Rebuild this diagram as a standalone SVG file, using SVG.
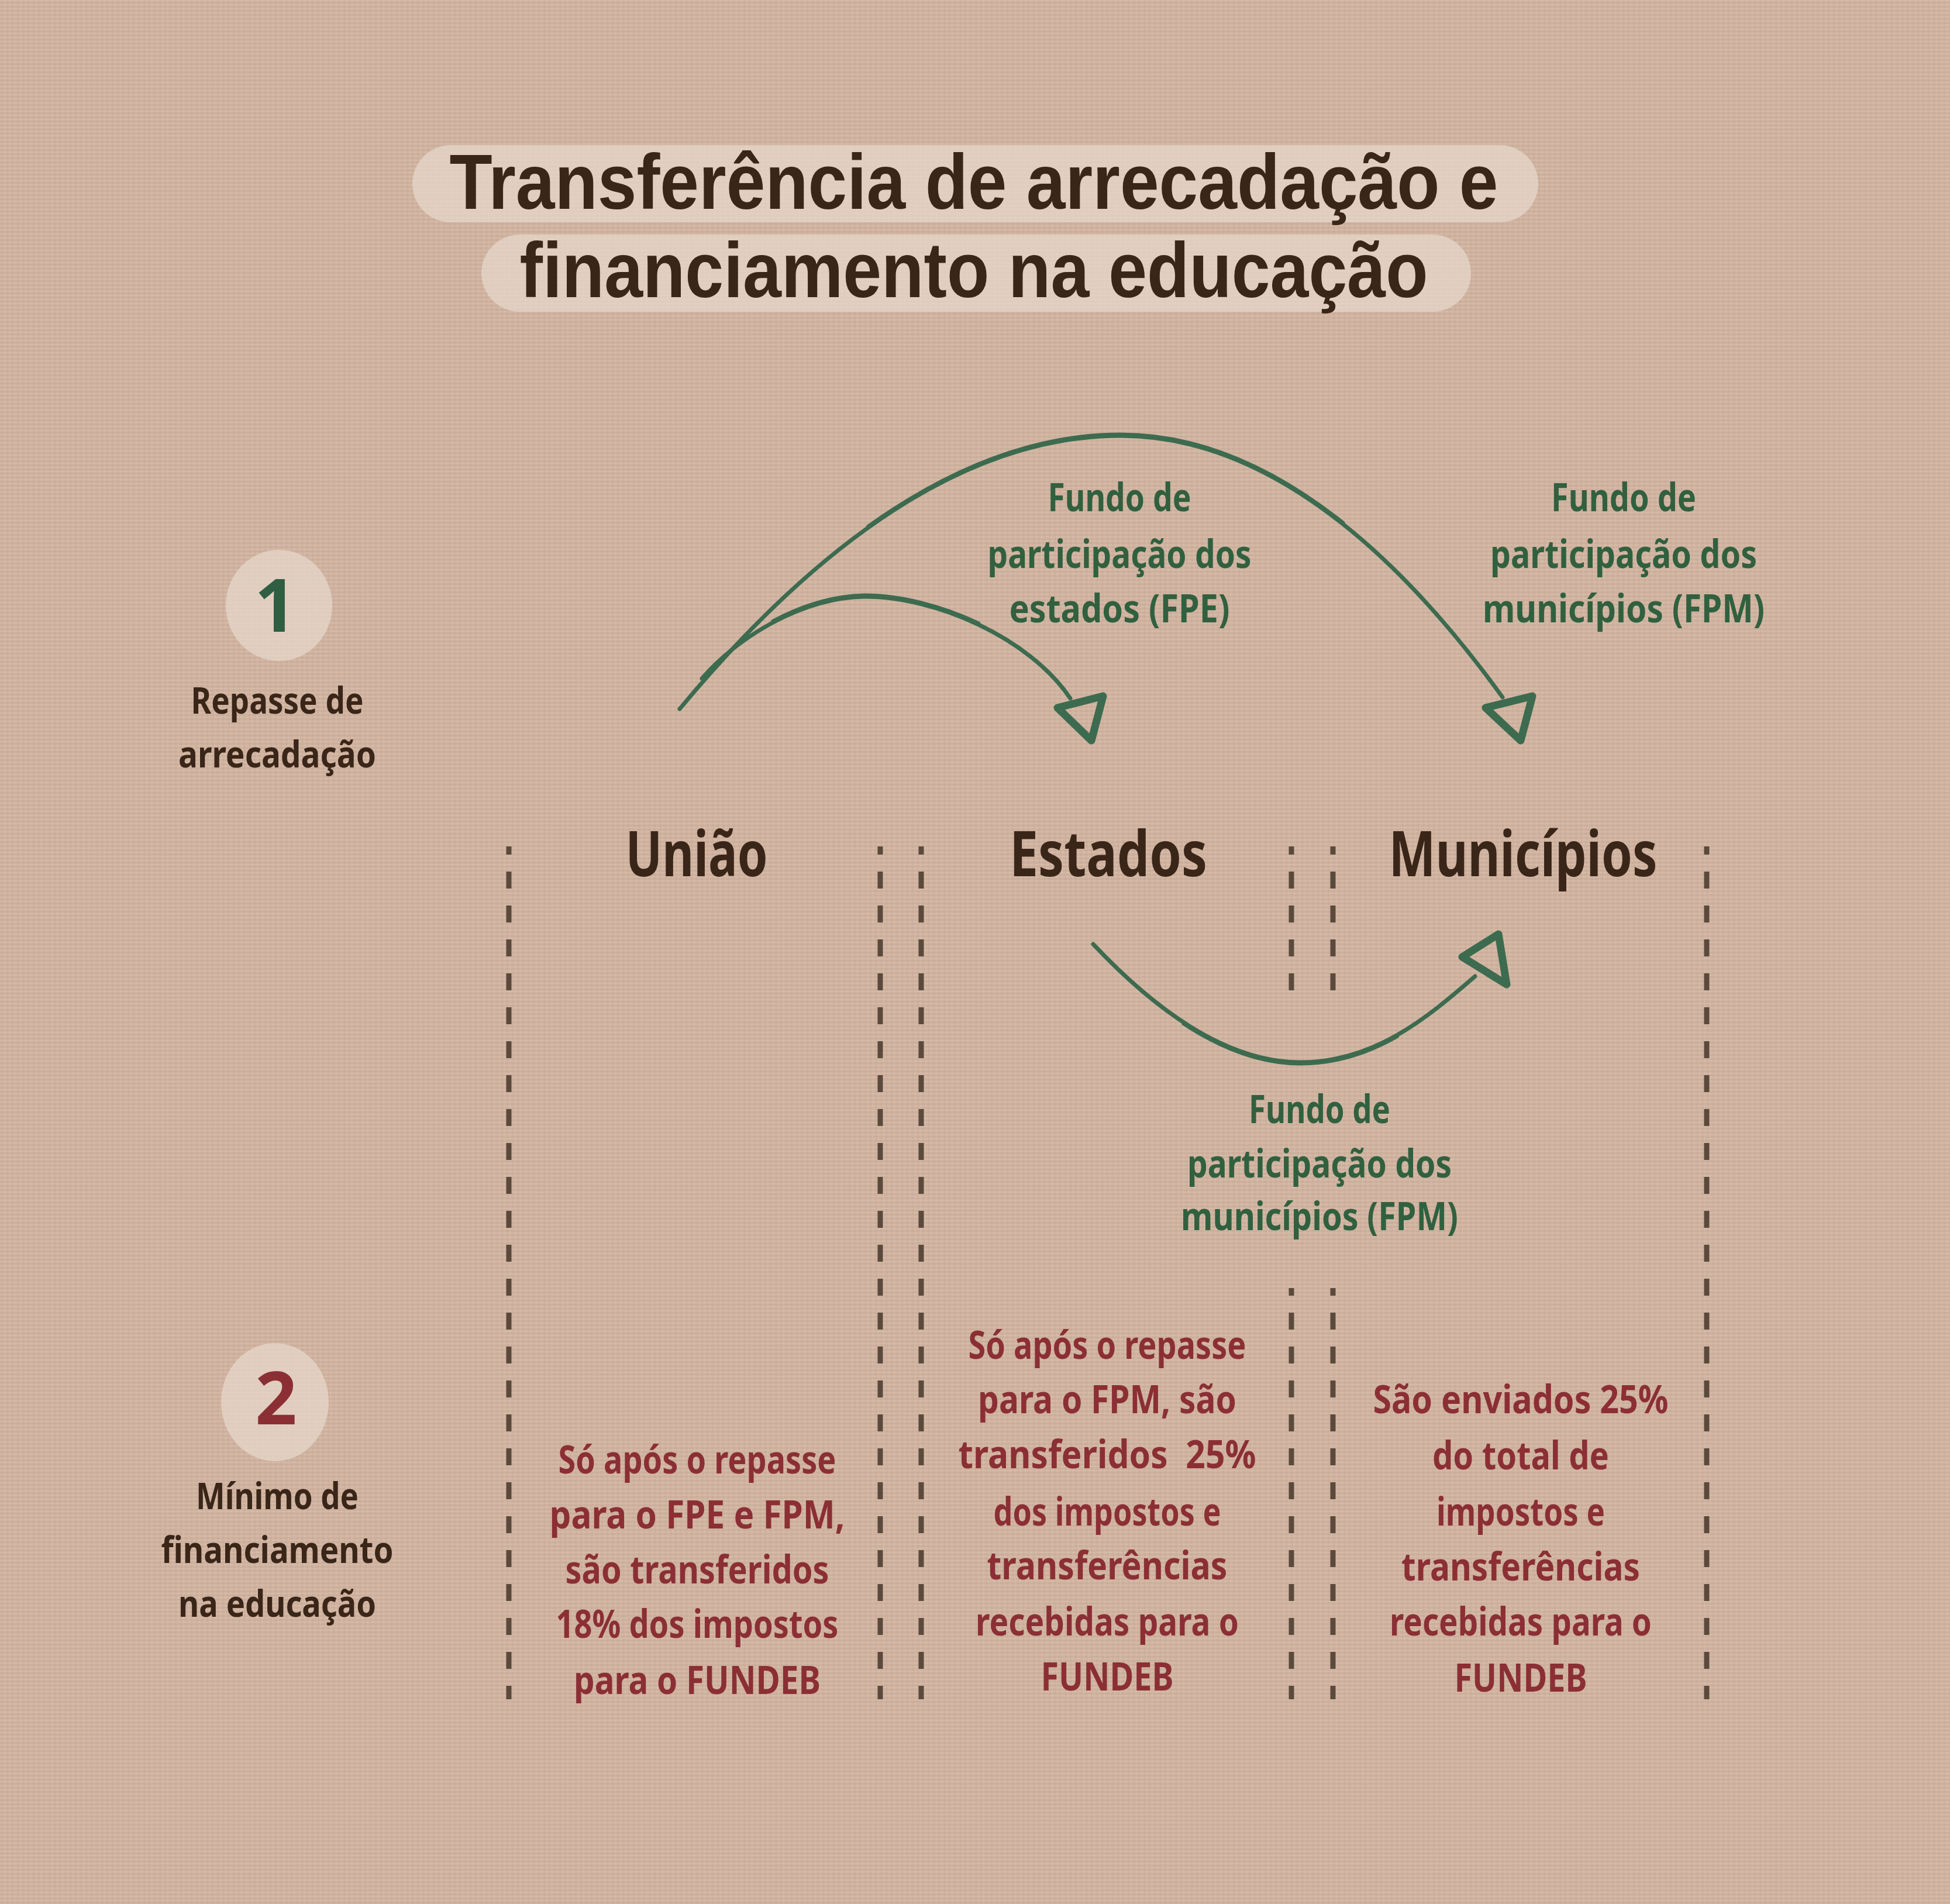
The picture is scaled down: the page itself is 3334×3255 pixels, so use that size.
<svg xmlns="http://www.w3.org/2000/svg" width="3334" height="3255" viewBox="0 0 3334 3255">
<defs>
<pattern id="linen" width="9" height="7" patternUnits="userSpaceOnUse">
<rect width="9" height="7" fill="#ceb19e"/>
<rect x="0" y="0" width="9" height="2" fill="#dcc3b1" opacity="0.55"/>
<rect x="0" y="4" width="9" height="1" fill="#bda08d" opacity="0.35"/>
<rect x="3" y="0" width="2" height="7" fill="#c4a894" opacity="0.35"/>
<rect x="7" y="2" width="1" height="5" fill="#dcc4b3" opacity="0.45"/>
</pattern>
<style>
text{font-family:"Noto Sans","DejaVu Sans",sans-serif;font-weight:700;text-anchor:middle}
.title{font-family:"Liberation Sans","Noto Sans",sans-serif;font-size:134px;fill:#3a2618}
.sec{font-size:62px;fill:#3a2618}
.head{font-size:108px;fill:#3a2618}
.grn{font-size:66px;fill:#31603f}
.red{font-size:66px;fill:#8b2f35}
.num1{font-size:125px;fill:#2f5e43}
.num2{font-size:125px;fill:#8b2f35}
.pill{fill:#e6d7ca;opacity:0.75}
.dash{stroke:#5b4a3c;stroke-width:9;stroke-dasharray:29 29;fill:none}
.arc{stroke:#3d6b4f;stroke-width:7;fill:none;stroke-linecap:round}
.arc2{stroke:#3d6b4f;stroke-width:5;fill:none;stroke-linecap:round}
.head-arrow{stroke:#3d6b4f;stroke-width:13;fill:none;stroke-linejoin:round}
</style>
</defs>
<rect width="3334" height="3255" fill="url(#linen)"/>

<g id="title">
<rect class="pill" x="705" y="248" width="1925" height="132" rx="66"/>
<rect class="pill" x="823" y="401" width="1692" height="132" rx="66"/>
<text class="title" x="1665" y="357" textLength="1793" lengthAdjust="spacingAndGlyphs">Transferência de arrecadação e</text>
<text class="title" x="1665" y="508" textLength="1553" lengthAdjust="spacingAndGlyphs">financiamento na educação</text>
</g>

<g id="step1">
<ellipse class="pill" cx="477" cy="1035" rx="91" ry="95"/>
<text class="num1" x="471" y="1080">1</text>
<text class="sec" x="474" y="1220" textLength="295" lengthAdjust="spacingAndGlyphs">Repasse de</text>
<text class="sec" x="474" y="1312" textLength="338" lengthAdjust="spacingAndGlyphs">arrecadação</text>
</g>

<g id="step2">
<ellipse class="pill" cx="470" cy="2397" rx="92" ry="101"/>
<text class="num2" x="472" y="2435">2</text>
<text class="sec" x="474" y="2580" textLength="278" lengthAdjust="spacingAndGlyphs">Mínimo de</text>
<text class="sec" x="474" y="2672" textLength="397" lengthAdjust="spacingAndGlyphs">financiamento</text>
<text class="sec" x="474" y="2764" textLength="338" lengthAdjust="spacingAndGlyphs">na educação</text>
</g>

<g id="columns">
<line class="dash" x1="870" y1="1447" x2="870" y2="2905" stroke-dashoffset="15"/>
<line class="dash" x1="1505" y1="1447" x2="1505" y2="2905" stroke-dashoffset="15"/>
<line class="dash" x1="1575" y1="1447" x2="1575" y2="2905" stroke-dashoffset="15"/>
<line class="dash" x1="2208" y1="1447" x2="2208" y2="1700" stroke-dashoffset="15"/>
<line class="dash" x1="2279" y1="1447" x2="2279" y2="1700" stroke-dashoffset="15"/>
<line class="dash" x1="2208" y1="2202" x2="2208" y2="2905" stroke-dashoffset="16"/>
<line class="dash" x1="2279" y1="2202" x2="2279" y2="2905" stroke-dashoffset="16"/>
<line class="dash" x1="2918" y1="1447" x2="2918" y2="2905" stroke-dashoffset="15"/>
</g>

<g id="uniao">
<text class="head" x="1191" y="1498" textLength="243" lengthAdjust="spacingAndGlyphs">União</text>
<text class="red" x="1192" y="2519" textLength="475" lengthAdjust="spacingAndGlyphs">Só após o repasse</text>
<text class="red" x="1192" y="2613" textLength="505" lengthAdjust="spacingAndGlyphs">para o FPE e FPM,</text>
<text class="red" x="1192" y="2707" textLength="451" lengthAdjust="spacingAndGlyphs">são transferidos</text>
<text class="red" x="1192" y="2800" textLength="483" lengthAdjust="spacingAndGlyphs">18% dos impostos</text>
<text class="red" x="1192" y="2896" textLength="422" lengthAdjust="spacingAndGlyphs">para o FUNDEB</text>
</g>

<g id="estados">
<text class="head" x="1895" y="1498" textLength="338" lengthAdjust="spacingAndGlyphs">Estados</text>
<text class="red" x="1893" y="2323" textLength="475" lengthAdjust="spacingAndGlyphs">Só após o repasse</text>
<text class="red" x="1893" y="2416" textLength="442" lengthAdjust="spacingAndGlyphs">para o FPM, são</text>
<text class="red" x="1893" y="2510" textLength="509" lengthAdjust="spacingAndGlyphs" xml:space="preserve">transferidos  25%</text>
<text class="red" x="1893" y="2608" textLength="389" lengthAdjust="spacingAndGlyphs">dos impostos e</text>
<text class="red" x="1893" y="2700" textLength="411" lengthAdjust="spacingAndGlyphs">transferências</text>
<text class="red" x="1893" y="2796" textLength="450" lengthAdjust="spacingAndGlyphs">recebidas para o</text>
<text class="red" x="1893" y="2890" textLength="227" lengthAdjust="spacingAndGlyphs">FUNDEB</text>
</g>

<g id="municipios">
<text class="head" x="2604" y="1498" textLength="459" lengthAdjust="spacingAndGlyphs">Municípios</text>
<text class="red" x="2600" y="2416" textLength="505" lengthAdjust="spacingAndGlyphs">São enviados 25%</text>
<text class="red" x="2600" y="2512" textLength="302" lengthAdjust="spacingAndGlyphs">do total de</text>
<text class="red" x="2600" y="2608" textLength="288" lengthAdjust="spacingAndGlyphs">impostos e</text>
<text class="red" x="2600" y="2702" textLength="408" lengthAdjust="spacingAndGlyphs">transferências</text>
<text class="red" x="2600" y="2796" textLength="448" lengthAdjust="spacingAndGlyphs">recebidas para o</text>
<text class="red" x="2600" y="2892" textLength="227" lengthAdjust="spacingAndGlyphs">FUNDEB</text>
</g>

<g id="connectors">
<path class="arc" d="M1162 1212 C1330 1010 1600 745 1916 745 C2200 745 2430 1000 2569 1192"/>
<path class="arc2" transform="translate(0,-3)" d="M1483.5 902.75 C1611.5 811.25 1758 745 1916 745 C2058 745 2186.5 808.75 2296.9 896.5"/>
<polygon class="head-arrow" points="2540,1210 2620,1190 2600,1266"/>
<path class="arc" d="M1200 1160 C1260 1090 1370 1022 1478 1020 C1600 1020 1760 1090 1830 1194"/>
<path class="arc2" transform="translate(0,-3)" d="M1321 1064.5 C1369.5 1038.5 1424 1021 1478 1020 C1539 1020 1609.5 1037.5 1673.5 1068"/>
<polygon class="head-arrow" points="1808,1210 1886,1190 1866,1266"/>
<path class="arc" d="M1869 1614 C1950 1700 2080 1816 2223 1816 C2350 1816 2440 1740 2522 1669"/>
<path class="arc2" transform="translate(0,3)" d="M2022.75 1747.25 C2083.25 1787 2151.5 1816 2223 1816 C2286.5 1816 2340.75 1797 2389.4 1769.1"/>
<polygon class="head-arrow" points="2500,1636 2562,1597 2576,1683"/>
</g>

<g id="label-fpe">
<text class="grn" x="1914" y="874" textLength="245" lengthAdjust="spacingAndGlyphs">Fundo de</text>
<text class="grn" x="1914" y="971" textLength="451" lengthAdjust="spacingAndGlyphs">participação dos</text>
<text class="grn" x="1914" y="1064" textLength="377" lengthAdjust="spacingAndGlyphs">estados (FPE)</text>
</g>

<g id="label-fpm-top">
<text class="grn" x="2776" y="874" textLength="248" lengthAdjust="spacingAndGlyphs">Fundo de</text>
<text class="grn" x="2776" y="971" textLength="456" lengthAdjust="spacingAndGlyphs">participação dos</text>
<text class="grn" x="2776" y="1064" textLength="482" lengthAdjust="spacingAndGlyphs">municípios (FPM)</text>
</g>

<g id="label-fpm-bottom">
<text class="grn" x="2256" y="1920" textLength="242" lengthAdjust="spacingAndGlyphs">Fundo de</text>
<text class="grn" x="2256" y="2013" textLength="452" lengthAdjust="spacingAndGlyphs">participação dos</text>
<text class="grn" x="2256" y="2103" textLength="474" lengthAdjust="spacingAndGlyphs">municípios (FPM)</text>
</g>
</svg>
